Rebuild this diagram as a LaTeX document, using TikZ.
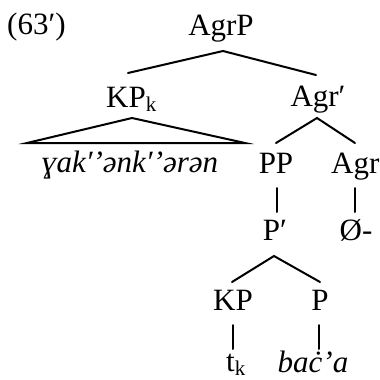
\documentclass[tikz,border=0pt]{standalone}
\usepackage{fontspec}
\setmainfont{Liberation Serif}
\newcommand{\lsub}[1]{\raisebox{-4pt}{\fontsize{21}{21}\selectfont #1}}
\begin{document}
\begin{tikzpicture}[x=1pt,y=-1pt,
  lab/.style={inner sep=0pt, anchor=base, font=\fontsize{31}{36}\selectfont},
  edge/.style={line width=2pt, line cap=round}]
\useasboundingbox (0,0) rectangle (380,380);
% labels
\node[lab, anchor=base west] (num) at (7,34) {(63′)};
\node[lab] (agrp) at (221,35) {AgrP};
\node[lab, anchor=base west] (kpk) at (106,107) {KP\lsub{k}};
\node[lab] (agrbar) at (318,106) {Agr′};
\node[lab] (word) at (130,172) {\itshape ɣak′’ənk′’ərən};
\node[lab] (pp) at (276,173) {PP};
\node[lab, anchor=base west] (agr) at (331,173) {Agr};
\node[lab] (pbar) at (275,240) {P′};
\node[lab] (zero) at (356,240) {Ø-};
\node[lab] (kp) at (233,310) {KP};
\node[lab] (p) at (320,310) {P};
\node[lab, anchor=base west] (tk) at (226,371) {t\lsub{k}};
\node[lab] (baca) at (313,372) {\itshape baċ’a};
% attachment points
\coordinate (agrp-d) at (223,51);
\coordinate (kpk-u) at (128,73);
\coordinate (agrbar-u) at (316,75);
\coordinate (kpk-d) at (132,118);
\coordinate (word-l) at (27,143);
\coordinate (word-r) at (245,143);
\coordinate (agrbar-d) at (317,118);
\coordinate (pp-u) at (276,143);
\coordinate (agr-u) at (355,143);
\coordinate (pp-d) at (277,188);
\coordinate (pbar-u) at (277,212);
\coordinate (agr-d) at (355,188);
\coordinate (zero-u) at (355,212);
\coordinate (pbar-d) at (274,256);
\coordinate (kp-u) at (232,282);
\coordinate (p-u) at (320,282);
\coordinate (kp-d) at (233,325);
\coordinate (tk-u) at (233,349);
\coordinate (p-d) at (319,325);
\coordinate (baca-u) at (319,349);
% connectors
\draw[edge] (kpk-u) -- (agrp-d) -- (agrbar-u);
\draw[edge, line join=miter] (kpk-d) -- (word-l) -- (word-r) -- cycle;
\draw[edge] (pp-u) -- (agrbar-d) -- (agr-u);
\draw[edge] (pp-d) -- (pbar-u);
\draw[edge] (agr-d) -- (zero-u);
\draw[edge] (kp-u) -- (pbar-d) -- (p-u);
\draw[edge] (kp-d) -- (tk-u);
\draw[edge] (p-d) -- (baca-u);
\end{tikzpicture}
\end{document}
